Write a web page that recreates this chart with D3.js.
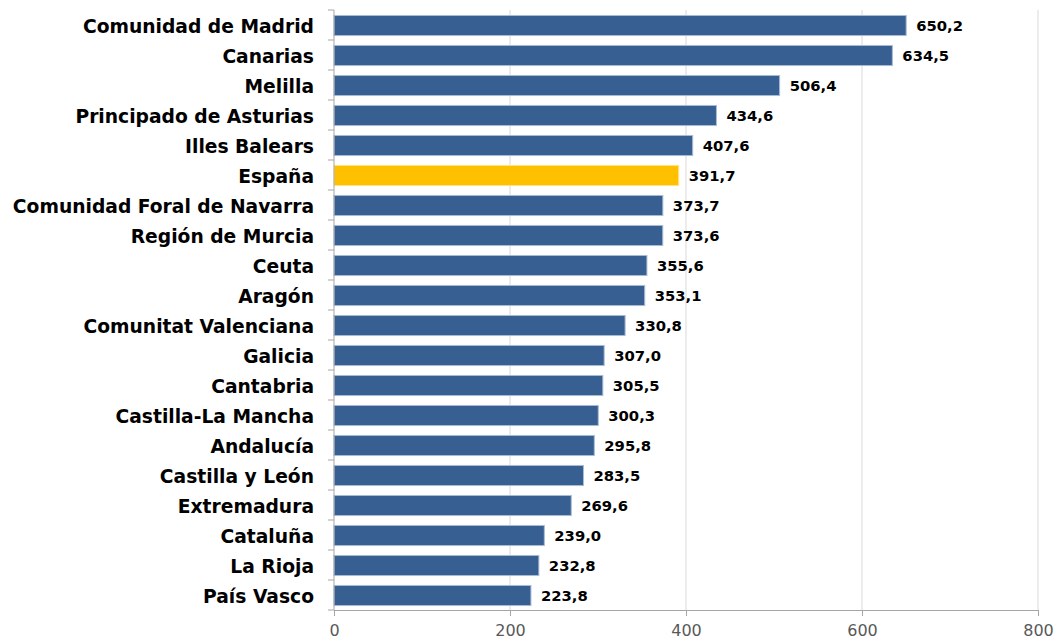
<!DOCTYPE html>
<html><head><meta charset="utf-8">
<script src="https://cdn.jsdelivr.net/npm/d3@7"></script>
<style>body{margin:0;background:#fff}</style>
</head><body>
<svg id="c" width="1061" height="643"></svg>
<script>
const categories = ["Comunidad de Madrid","Canarias","Melilla","Principado de Asturias","Illes Balears","España","Comunidad Foral de Navarra","Región de Murcia","Ceuta","Aragón","Comunitat Valenciana","Galicia","Cantabria","Castilla-La Mancha","Andalucía","Castilla y León","Extremadura","Cataluña","La Rioja","País Vasco"];
const values = [650.2,634.5,506.4,434.6,407.6,391.7,373.7,373.6,355.6,353.1,330.8,307.0,305.5,300.3,295.8,283.5,269.6,239.0,232.8,223.8];
const xTicks = [0,200,400,600,800];
const highlight = "España";

(function(){
const svg = d3.select("#c");
const mL = 334, mR = 1038, mT = 10, mB = 610;
const font = "'DejaVu Sans', Verdana, sans-serif";
const x = d3.scaleLinear().domain([0,800]).range([mL,mR]);
const y = d3.scaleBand().domain(categories).range([mT,mB]).paddingInner(0.33).paddingOuter(0.165);

svg.append("g").selectAll("line").data(xTicks.slice(1)).join("line")
  .attr("x1",d=>x(d)).attr("x2",d=>x(d)).attr("y1",mT).attr("y2",mB)
  .attr("stroke","#d9d9d9").attr("stroke-width",1);

svg.append("g").selectAll("rect").data(categories).join("rect")
  .attr("x",x(0)).attr("y",d=>y(d)+0.5)
  .attr("width",(d,i)=>x(values[i])-x(0)).attr("height",y.bandwidth())
  .attr("fill",d=>d===highlight?"#FFC000":"#375F92")
  .attr("stroke",d=>d===highlight?"#ffe28a":"#a9bcd6").attr("stroke-width",1);

svg.append("g").selectAll("text").data(categories).join("text")
  .attr("x",(d,i)=>x(values[i])+10).attr("y",d=>y(d)+y.bandwidth()/2+1)
  .attr("dy","0.36em")
  .attr("font-family",font).attr("font-weight",700)
  .attr("font-size",14.8).attr("fill","#000")
  .text((d,i)=>d3.format(".1f")(values[i]).replace(".",","));

const ya = svg.append("g").attr("transform",`translate(${mL},0)`);
ya.append("line").attr("x1",0).attr("x2",0).attr("y1",mT).attr("y2",mB).attr("stroke","#a6a6a6");
const bounds = d3.range(categories.length+1).map(i=>mT+i*(mB-mT)/categories.length);
ya.selectAll("line.t").data(bounds).join("line").attr("class","t")
  .attr("x1",-6).attr("x2",0).attr("y1",d=>d).attr("y2",d=>d).attr("stroke","#a6a6a6");
ya.selectAll("text").data(categories).join("text")
  .attr("x",-20).attr("y",d=>y(d)+y.bandwidth()/2+1).attr("dy","0.36em")
  .attr("text-anchor","end")
  .attr("font-family",font).attr("font-weight",700)
  .attr("font-size",18.7).attr("fill","#000").text(d=>d);

const xa = svg.append("g").attr("transform",`translate(0,${mB})`)
  .call(d3.axisBottom(x).tickValues(xTicks).tickSize(6).tickSizeOuter(0).tickFormat(d3.format("d")));
xa.select(".domain").attr("stroke","#a6a6a6");
xa.selectAll(".tick line").attr("stroke","#a6a6a6");
xa.selectAll("text").attr("font-family",font).attr("font-size",16)
  .attr("fill","#595959").attr("dy","1.05em");
})();
</script>
</body></html>
